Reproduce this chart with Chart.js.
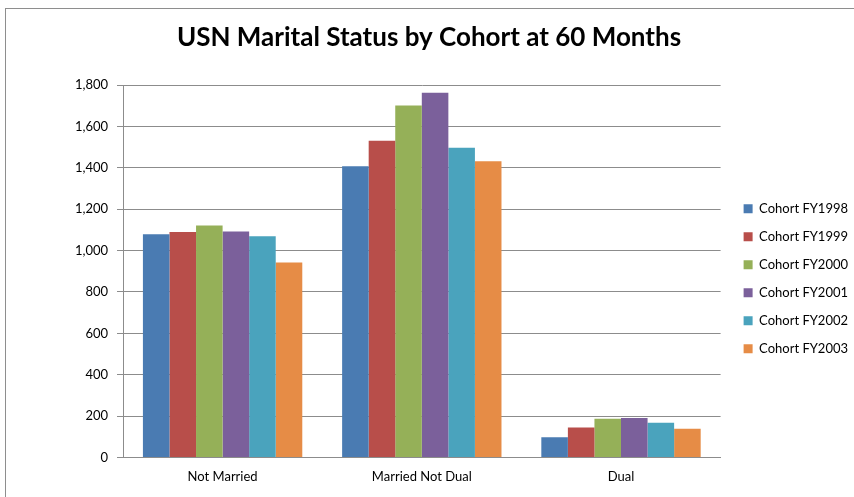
<!DOCTYPE html>
<html>
<head>
<meta charset="utf-8">
<script src="https://cdn.jsdelivr.net/npm/chart.js@4.4.1/dist/chart.umd.min.js"></script>
<style>
    html, body { margin: 0; padding: 0; background: #fff; overflow: hidden; }
    #frame { position: absolute; left: 5px; top: 8px; width: 900px; height: 520px; border: 1px solid #8e8e8e; }
    #wrap { position: absolute; left: 0; top: 0; width: 874px; height: 497px; }
</style>
</head>
<body>
<div id="frame"></div>
<div id="wrap"><canvas id="maritalChart"></canvas></div>
<script>
// Categories and series
const categories = ['Not Married', 'Married Not Dual', 'Dual'];
const cohortNames = ['Cohort FY1998', 'Cohort FY1999', 'Cohort FY2000', 'Cohort FY2001', 'Cohort FY2002', 'Cohort FY2003'];
const fy1998 = [1079, 1408, 97];
const fy1999 = [1090, 1531, 145];
const fy2000 = [1122, 1702, 187];
const fy2001 = [1093, 1763, 190];
const fy2002 = [1069, 1497, 167];
const fy2003 = [942, 1432, 138];
const cohortColors = ['#4a7bb2', '#b84e4a', '#95b058', '#7b609b', '#4aa3bd', '#e68c46'];

const seriesValues = [fy1998, fy1999, fy2000, fy2001, fy2002, fy2003];

function initializeChart() {
    const ctx = document.getElementById('maritalChart').getContext('2d');
    return new Chart(ctx, {
        type: 'bar',
        data: {
            labels: categories,
            datasets: cohortNames.map((name, i) => ({
                label: name,
                data: seriesValues[i],
                backgroundColor: cohortColors[i],
                borderWidth: 0
            }))
        },
        options: {
            responsive: true,
            maintainAspectRatio: false,
            animation: false,
            layout: {
                padding: { left: 0, right: 16, top: 10, bottom: 8 }
            },
            datasets: {
                bar: { categoryPercentage: 0.8, barPercentage: 1.0 }
            },
            scales: {
                x: {
                    grid: { display: false },
                    border: { color: '#8c8c8c', width: 1 },
                    ticks: {
                        color: '#000',
                        padding: 4,
                        font: { family: 'Lato', size: 13 }
                    }
                },
                y: {
                    min: 0,
                    max: 1800,
                    afterFit: (scale) => { scale.width = 123; },
                    grid: {
                        color: '#8c8c8c',
                        tickLength: 6
                    },
                    border: { color: '#8c8c8c', width: 1 },
                    ticks: {
                        stepSize: 200,
                        color: '#000',
                        padding: 9,
                        font: { family: 'Lato', size: 13 },
                        callback: (v) => v.toLocaleString('en-US')
                    }
                },
                // empty axis that only keeps a gap before the legend
                spacer: {
                    type: 'linear',
                    position: 'right',
                    afterFit: (scale) => { scale.width = 8; },
                    grid: { drawOnChartArea: false, display: false },
                    border: { display: false },
                    ticks: { display: false }
                }
            },
            plugins: {
                title: {
                    display: true,
                    text: 'USN Marital Status by Cohort at 60 Months',
                    color: '#000',
                    font: { family: 'Lato', size: 26, weight: 'bold' },
                    padding: { top: 12, bottom: 32 }
                },
                legend: {
                    position: 'right',
                    title: {
                        display: true,
                        text: ' ',
                        font: { size: 13 },
                        padding: { top: 0, bottom: 43 }
                    },
                    labels: {
                        boxWidth: 9,
                        boxHeight: 9,
                        padding: 15,
                        color: '#000',
                        font: { family: 'Lato', size: 13 }
                    }
                },
                tooltip: { enabled: false }
            }
        }
    });
}

document.addEventListener('DOMContentLoaded', () => {
    initializeChart();
});
</script>
</body>
</html>
